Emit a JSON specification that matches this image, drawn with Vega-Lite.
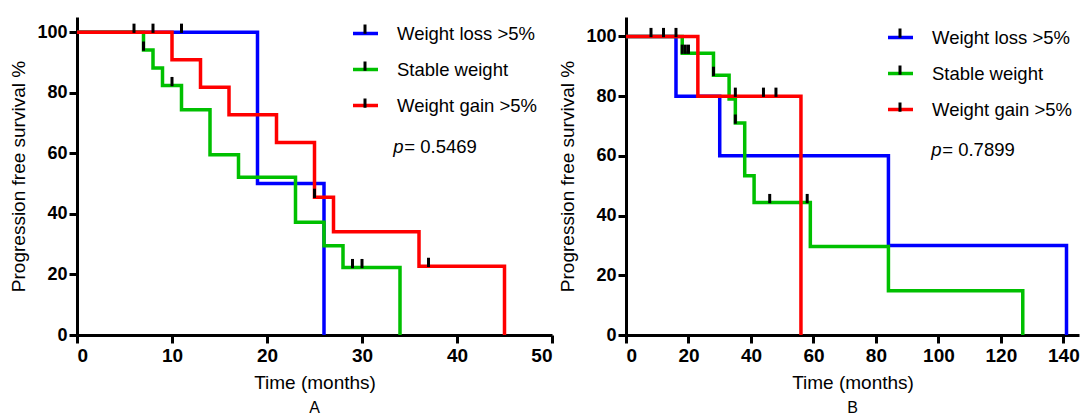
{
  "$schema": "https://vega.github.io/schema/vega-lite/v6.json",
  "padding": {"left": 9, "top": 17, "right": 0, "bottom": 0},
  "background": "white",
  "datasets": {
    "curveA": [
      {"g": "Weight loss >5%", "t": 0, "s": 100},
      {"g": "Weight loss >5%", "t": 19, "s": 50},
      {"g": "Weight loss >5%", "t": 26, "s": 0},
      {"g": "Stable weight", "t": 0, "s": 100},
      {"g": "Stable weight", "t": 7, "s": 94.1},
      {"g": "Stable weight", "t": 8, "s": 88.2},
      {"g": "Stable weight", "t": 9, "s": 82.4},
      {"g": "Stable weight", "t": 11, "s": 74.4},
      {"g": "Stable weight", "t": 14, "s": 59.5},
      {"g": "Stable weight", "t": 17, "s": 52.1},
      {"g": "Stable weight", "t": 23, "s": 37.2},
      {"g": "Stable weight", "t": 26, "s": 29.5},
      {"g": "Stable weight", "t": 28, "s": 22.3},
      {"g": "Stable weight", "t": 34, "s": 0},
      {"g": "Weight gain >5%", "t": 0, "s": 100},
      {"g": "Weight gain >5%", "t": 10, "s": 90.9},
      {"g": "Weight gain >5%", "t": 13, "s": 81.8},
      {"g": "Weight gain >5%", "t": 16, "s": 72.7},
      {"g": "Weight gain >5%", "t": 21, "s": 63.6},
      {"g": "Weight gain >5%", "t": 25, "s": 45.5},
      {"g": "Weight gain >5%", "t": 27, "s": 34.1},
      {"g": "Weight gain >5%", "t": 36, "s": 22.7},
      {"g": "Weight gain >5%", "t": 45, "s": 0}
    ],
    "censA": [
      {"c": "Weight loss >5%", "t": 6, "s": 100},
      {"c": "Weight loss >5%", "t": 8, "s": 100},
      {"c": "Weight loss >5%", "t": 11, "s": 100},
      {"c": "Stable weight", "t": 7, "s": 94.1},
      {"c": "Stable weight", "t": 10, "s": 82.4},
      {"c": "Stable weight", "t": 29, "s": 22.3},
      {"c": "Stable weight", "t": 30, "s": 22.3},
      {"c": "Weight gain >5%", "t": 25, "s": 45.5},
      {"c": "Weight gain >5%", "t": 37, "s": 22.7}
    ],
    "curveB": [
      {"g": "Weight loss >5%", "t": 0, "s": 100},
      {"g": "Weight loss >5%", "t": 16, "s": 80},
      {"g": "Weight loss >5%", "t": 30, "s": 60},
      {"g": "Weight loss >5%", "t": 84, "s": 30},
      {"g": "Weight loss >5%", "t": 141, "s": 0},
      {"g": "Stable weight", "t": 0, "s": 100},
      {"g": "Stable weight", "t": 18, "s": 94.4},
      {"g": "Stable weight", "t": 28, "s": 87},
      {"g": "Stable weight", "t": 33, "s": 79},
      {"g": "Stable weight", "t": 35, "s": 71},
      {"g": "Stable weight", "t": 38, "s": 53.3},
      {"g": "Stable weight", "t": 41, "s": 44.4},
      {"g": "Stable weight", "t": 59, "s": 29.6},
      {"g": "Stable weight", "t": 84, "s": 14.8},
      {"g": "Stable weight", "t": 127, "s": 0},
      {"g": "Weight gain >5%", "t": 0, "s": 100},
      {"g": "Weight gain >5%", "t": 23, "s": 80},
      {"g": "Weight gain >5%", "t": 56, "s": 0}
    ],
    "censB": [
      {"c": "Weight loss >5%", "t": 8, "s": 100},
      {"c": "Weight loss >5%", "t": 12, "s": 100},
      {"c": "Weight loss >5%", "t": 16, "s": 100},
      {"c": "Stable weight", "t": 18, "s": 94.4},
      {"c": "Stable weight", "t": 19, "s": 94.4},
      {"c": "Stable weight", "t": 20, "s": 94.4},
      {"c": "Stable weight", "t": 28, "s": 87},
      {"c": "Stable weight", "t": 35, "s": 71},
      {"c": "Stable weight", "t": 46, "s": 44.4},
      {"c": "Stable weight", "t": 58, "s": 44.4},
      {"c": "Weight gain >5%", "t": 35, "s": 80},
      {"c": "Weight gain >5%", "t": 44, "s": 80},
      {"c": "Weight gain >5%", "t": 48, "s": 80}
    ]
  },
  "hconcat": [
    {
      "width": 475,
      "height": 318,
      "title": {"text": "A", "orient": "bottom", "anchor": "middle", "font": "Liberation Sans", "fontSize": 16, "fontWeight": "normal", "color": "black", "offset": 8},
      "layer": [
        {
          "data": {"name": "curveA"},
          "mark": {"type": "line", "interpolate": "step-after", "strokeWidth": 3.5},
          "encoding": {
            "x": {"field": "t", "type": "quantitative", "scale": {"domain": [0, 50], "nice": false}, "axis": {"title": "Time (months)", "values": [0, 10, 20, 30, 40, 50]}},
            "y": {"field": "s", "type": "quantitative", "scale": {"domain": [0, 105], "nice": false}, "axis": {"title": "Progression free survival %", "values": [0, 20, 40, 60, 80, 100]}},
            "color": {"field": "g", "type": "nominal", "sort": ["Weight loss >5%", "Stable weight", "Weight gain >5%"],
              "scale": {"range": ["#0000ff", "#00c000", "#ff0000"]},
              "legend": {"orient": "none", "legendX": 274, "legendY": 2, "title": null, "symbolType": "stroke", "symbolSize": 625, "symbolStrokeWidth": 3.5, "labelFont": "Liberation Sans", "labelFontSize": 18.5, "labelColor": "black", "labelOffset": 17, "rowPadding": 12, "zindex": 1}}
          }
        },
        {
          "data": {"name": "censA"},
          "mark": {"type": "point", "filled": false, "color": "black", "strokeWidth": 3, "size": 625, "opacity": 1},
          "encoding": {
            "x": {"field": "t", "type": "quantitative"},
            "y": {"field": "s", "type": "quantitative"},
            "shape": {"field": "c", "type": "nominal", "sort": ["Weight loss >5%", "Stable weight", "Weight gain >5%"],
              "scale": {"range": ["M0,-0.68L0,0.06", "M0,-0.68L0,0.06", "M0,-0.68L0,0.06"]},
              "legend": {"orient": "none", "legendX": 274, "legendY": 2, "title": null, "symbolSize": 625, "symbolStrokeColor": "black", "symbolStrokeWidth": 3, "symbolFillColor": "transparent", "labelFont": "Liberation Sans", "labelFontSize": 18.5, "labelOpacity": 0, "labelOffset": 17, "rowPadding": 12, "zindex": 2}}
          }
        },
        {
          "data": {"values": [{"label": "p"}]},
          "mark": {"type": "text", "align": "left", "baseline": "alphabetic", "font": "Liberation Sans", "fontSize": 18.5, "fontStyle": "italic", "color": "black"},
          "encoding": {"x": {"datum": 33.3, "type": "quantitative"}, "y": {"datum": 60, "type": "quantitative"}, "text": {"field": "label"}}
        },
        {
          "data": {"values": [{"label": "= 0.5469"}]},
          "mark": {"type": "text", "align": "left", "baseline": "alphabetic", "font": "Liberation Sans", "fontSize": 18.5, "color": "black", "dx": 11},
          "encoding": {"x": {"datum": 33.3, "type": "quantitative"}, "y": {"datum": 60, "type": "quantitative"}, "text": {"field": "label"}}
        }
      ]
    },
    {
      "width": 453,
      "height": 318,
      "title": {"text": "B", "orient": "bottom", "anchor": "middle", "font": "Liberation Sans", "fontSize": 16, "fontWeight": "normal", "color": "black", "offset": 8},
      "layer": [
        {
          "data": {"name": "curveB"},
          "mark": {"type": "line", "interpolate": "step-after", "strokeWidth": 3.5},
          "encoding": {
            "x": {"field": "t", "type": "quantitative", "scale": {"domain": [0, 145], "nice": false}, "axis": {"title": "Time (months)", "values": [0, 20, 40, 60, 80, 100, 120, 140]}},
            "y": {"field": "s", "type": "quantitative", "scale": {"domain": [0, 106.5], "nice": false}, "axis": {"title": "Progression free survival %", "values": [0, 20, 40, 60, 80, 100]}},
            "color": {"field": "g", "type": "nominal", "sort": ["Weight loss >5%", "Stable weight", "Weight gain >5%"],
              "scale": {"range": ["#0000ff", "#00c000", "#ff0000"]},
              "legend": {"orient": "none", "legendX": 260, "legendY": 6, "title": null, "symbolType": "stroke", "symbolSize": 625, "symbolStrokeWidth": 3.5, "labelFont": "Liberation Sans", "labelFontSize": 18.5, "labelColor": "black", "labelOffset": 17, "rowPadding": 12, "zindex": 1}}
          }
        },
        {
          "data": {"name": "censB"},
          "mark": {"type": "point", "filled": false, "color": "black", "strokeWidth": 3, "size": 625, "opacity": 1},
          "encoding": {
            "x": {"field": "t", "type": "quantitative"},
            "y": {"field": "s", "type": "quantitative"},
            "shape": {"field": "c", "type": "nominal", "sort": ["Weight loss >5%", "Stable weight", "Weight gain >5%"],
              "scale": {"range": ["M0,-0.68L0,0.06", "M0,-0.68L0,0.06", "M0,-0.68L0,0.06"]},
              "legend": {"orient": "none", "legendX": 260, "legendY": 6, "title": null, "symbolSize": 625, "symbolStrokeColor": "black", "symbolStrokeWidth": 3, "symbolFillColor": "transparent", "labelFont": "Liberation Sans", "labelFontSize": 18.5, "labelOpacity": 0, "labelOffset": 17, "rowPadding": 12, "zindex": 2}}
          }
        },
        {
          "data": {"values": [{"label": "p"}]},
          "mark": {"type": "text", "align": "left", "baseline": "alphabetic", "font": "Liberation Sans", "fontSize": 18.5, "fontStyle": "italic", "color": "black"},
          "encoding": {"x": {"datum": 97.7, "type": "quantitative"}, "y": {"datum": 60, "type": "quantitative"}, "text": {"field": "label"}}
        },
        {
          "data": {"values": [{"label": "= 0.7899"}]},
          "mark": {"type": "text", "align": "left", "baseline": "alphabetic", "font": "Liberation Sans", "fontSize": 18.5, "color": "black", "dx": 11},
          "encoding": {"x": {"datum": 97.7, "type": "quantitative"}, "y": {"datum": 60, "type": "quantitative"}, "text": {"field": "label"}}
        }
      ]
    }
  ],
  "spacing": 74,
  "bounds": "flush",
  "resolve": {
    "scale": {"x": "independent", "y": "independent", "color": "independent", "shape": "independent"},
    "axis": {"x": "independent", "y": "independent"},
    "legend": {"color": "independent", "shape": "independent"}
  },
  "config": {
    "view": {"stroke": null},
    "axis": {
      "grid": false, "domainColor": "black", "domainWidth": 3, "tickColor": "black", "tickWidth": 3, "tickSize": 8,
      "labelColor": "black", "titleColor": "black",
      "labelFont": "Liberation Sans", "labelFontWeight": "bold", "labelFontSize": 18, "labelPadding": 2,
      "titleFont": "Liberation Sans", "titleFontWeight": "normal", "titleFontSize": 19, "titlePadding": 8
    },
    "axisX": {"labelFontSize": 19, "labelPadding": 3, "titleFontSize": 19, "titlePadding": 8}
  }
}
